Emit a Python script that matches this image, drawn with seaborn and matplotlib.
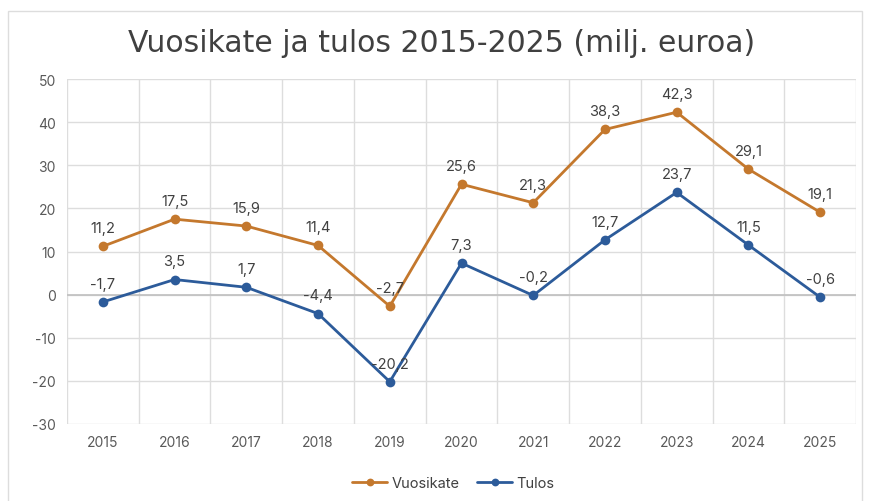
import matplotlib
matplotlib.use("Agg")
import matplotlib.pyplot as plt
import seaborn as sns
import pandas as pd
import numpy as np
from matplotlib.patches import Rectangle

years = ["2015", "2016", "2017", "2018", "2019", "2020", "2021", "2022", "2023", "2024", "2025"]
vuosikate = [11.2, 17.5, 15.9, 11.4, -2.7, 25.6, 21.3, 38.3, 42.3, 29.1, 19.1]
tulos = [-1.7, 3.5, 1.7, -4.4, -20.2, 7.3, -0.2, 12.7, 23.7, 11.5, -0.6]
series_names = ["Vuosikate", "Tulos"]
y_ticks = [-30, -20, -10, 0, 10, 20, 30, 40, 50]

orange = "#C4782D"
blue = "#2C5B9A"

sns.set_theme(style="white")
plt.rcParams['font.family'] = ['Inter', 'DejaVu Sans']

df = pd.DataFrame({
    "x": list(range(len(years))) * 2,
    "value": vuosikate + tulos,
    "series": [series_names[0]] * len(years) + [series_names[1]] * len(years),
})

fig = plt.figure(figsize=(8.77, 5.02), dpi=100)
fig.patches.append(Rectangle((8/877, -0.01), (862-8)/877, 1 - 12/502 + 0.01,
                             transform=fig.transFigure, fill=False,
                             edgecolor="#DDDDDD", linewidth=1.0, zorder=0))
ax = fig.add_axes([67/877, 1 - 425/502, (856-67)/877, (425-80)/502])

sns.lineplot(data=df, x="x", y="value", hue="series", palette=[orange, blue],
             marker="o", markersize=7, markeredgewidth=0, linewidth=2.0,
             ax=ax, zorder=3, legend=True)

ax.set_xlim(-0.5, len(years) - 0.5)
ax.set_ylim(-30, 50)
ax.set_yticks(y_ticks)
ax.set_yticklabels([str(t) for t in y_ticks], color="#595959", fontsize=10)
ax.set_xticks(range(len(years)))
ax.set_xticklabels(years, color="#595959", fontsize=10)
ax.set_xticks(np.arange(-0.5, len(years), 1.0), minor=True)
ax.grid(True, which="major", axis="y", color="#DDDDDD", linewidth=1)
ax.grid(True, which="minor", axis="x", color="#DDDDDD", linewidth=1)
ax.axhline(0, color="#BFBFBF", linewidth=1.2, zorder=1)
ax.tick_params(axis="both", which="both", length=0, pad=8)
for s in ax.spines.values():
    s.set_visible(False)
ax.set_xlabel("")
ax.set_ylabel("")

for vals in (vuosikate, tulos):
    for i, v in enumerate(vals):
        ax.annotate(f"{v:.1f}".replace(".", ","), (i, v), xytext=(0, 8),
                    textcoords="offset points", ha="center", va="bottom",
                    fontsize=10.5, color="#404040", zorder=4)

handles, labels = ax.get_legend_handles_labels()
ax.legend(handles, labels, loc="center", bbox_to_anchor=(0.49, -0.17),
          ncol=2, frameon=False, fontsize=10.5, handlelength=2.4,
          columnspacing=1.2, handletextpad=0.3, labelcolor="#404040",
          markerscale=0.8)

fig.text(0.503, 1 - 43/502, "Vuosikate ja tulos 2015-2025 (milj. euroa)",
         ha="center", va="center", fontsize=21.5, color="#404040",
         family=["DejaVu Sans"])

fig.savefig("out.png", dpi=100)
